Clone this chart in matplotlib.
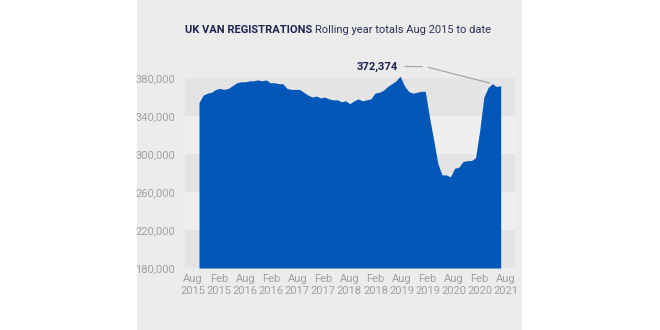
import matplotlib
matplotlib.use("Agg")
import matplotlib.pyplot as plt
from matplotlib.patches import Rectangle
import numpy as np

plt.rcParams['font.family'] = ['Roboto', 'DejaVu Sans']

# Monthly rolling-year totals, Aug 2015 .. Aug 2021 (73 points)
values = [354000, 362000, 364000, 365000, 368000, 369000, 368000, 369000, 372000, 375000,
          376000, 376000, 377000, 377000, 378000, 377000, 378000, 375000, 375000, 374000,
          374000, 369000, 368000, 368000, 368000, 365000, 362000, 360000, 361000, 359000,
          360000, 358000, 357000, 357000, 355000, 356000, 353000, 356000, 358000, 356000,
          357000, 358000, 364000, 365000, 367000, 371000, 374000, 377000, 382000, 372000,
          366000, 364000, 365000, 366000, 366000, 339000, 315000, 290000, 278000, 278000,
          276000, 285000, 286000, 292000, 293000, 293000, 296000, 325000, 360000, 370000,
          374000, 371000, 372000]
tick_labels = ["Aug\n2015", "Feb\n2015", "Aug\n2016", "Feb\n2016", "Aug\n2017", "Feb\n2017",
               "Aug\n2018", "Feb\n2018", "Aug\n2019", "Feb\n2019", "Aug\n2020", "Feb\n2020",
               "Aug\n2021"]
y_ticks = [180000, 220000, 260000, 300000, 340000, 380000]
annotation_text = "372,374"

W, H = 660, 330
fig = plt.figure(figsize=(6.6, 3.3), dpi=100)
fig.patch.set_facecolor("white")
panel_color = "#ececec"
fig.patches.append(Rectangle((137 / W, 0), (522 - 137) / W, 1, transform=fig.transFigure,
                             facecolor=panel_color, edgecolor="none", zorder=-5))

ymin, ymax = 180000, 382000
px_per = 0.95 / 1000
top_px = 268 - (ymax - ymin) * px_per
ax = fig.add_axes([185 / W, (H - 268) / H, 330 / W, (268 - top_px) / H])
ax.set_zorder(2)
ax.set_facecolor(panel_color)
ax.set_ylim(ymin, ymax)
x = np.arange(len(values))
x0 = (185 - 199) / 4.19
x1 = (515 - 199) / 4.19
ax.set_xlim(x0, x1)

# bands
dark, light = "#e4e4e4", "#efefef"
for i in range(len(y_ticks) - 1):
    ax.axhspan(y_ticks[i], y_ticks[i + 1], color=dark if i % 2 == 0 else light, lw=0, zorder=0)

ax.fill_between(x, ymin, values, color="#0057b7", lw=0, zorder=2)

for s in ax.spines.values():
    s.set_visible(False)
ax.set_yticks(y_ticks)
ax.set_yticklabels([f"{v:,}" for v in y_ticks])
tick_pos = np.linspace(-1.4, 73.2, len(tick_labels))
ax.set_xticks(tick_pos)
ax.set_xticklabels(tick_labels, linespacing=1.25)
ax.tick_params(axis="both", length=0, labelsize=8, labelcolor="#a0a0a0")
ax.tick_params(axis="y", pad=7)
ax.tick_params(axis="x", pad=4)

# annotation
peak_i = 70
ax.annotate("", xy=(x[peak_i], values[peak_i]), xytext=(x[peak_i] - 16, 392000),
            arrowprops=dict(arrowstyle="-", color="#a0a0a0", lw=0.8),
            annotation_clip=False, zorder=3)
ax.annotate("", xy=(x[peak_i] - 16, 392000), xytext=(x[peak_i] - 21.5, 392000),
            arrowprops=dict(arrowstyle="-", color="#a0a0a0", lw=0.8),
            annotation_clip=False, zorder=3)
ax.text(x[peak_i] - 22.5, 392000, annotation_text, ha="right", va="center", fontsize=8,
        fontweight="bold", color="#1d2350", clip_on=False)

# title
t1 = fig.text(185 / W, 1 - 30 / H, "UK VAN REGISTRATIONS", fontsize=8.0, fontweight="bold",
              color="#1d2350", va="center", ha="left")
fig.canvas.draw()
bb = t1.get_window_extent()
fig.text(bb.x1 / W + 3 / W, 1 - 30 / H, "Rolling year totals Aug 2015 to date", fontsize=8.0,
         color="#2c3158", va="center", ha="left")

fig.savefig("out.png", dpi=100, facecolor="white")
